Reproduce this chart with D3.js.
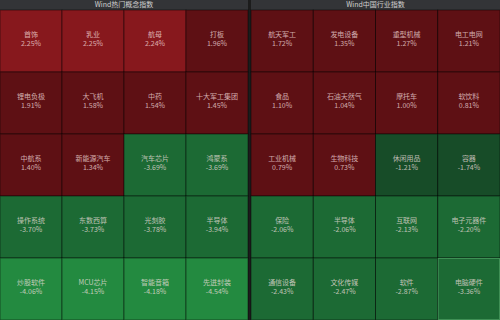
<!DOCTYPE html>
<html>
<head>
<meta charset="utf-8">
<script src="https://cdn.jsdelivr.net/npm/d3@7"></script>
<style>
  body { margin: 0; background: #1c1c1c; }
  svg { display: block; font-family: "Noto Sans CJK SC", "Noto Sans", sans-serif; }
</style>
</head>
<body>
<svg id="chart" width="500" height="320"></svg>
<script>
// panel titles
var panelTitles = ["Wind热门概念指数", "Wind中国行业指数"];

// left panel: concept indices, row by row
var conceptNames = ["首饰", "乳业", "航母", "打板",
                    "锂电负极", "大飞机", "中药", "十大军工集团",
                    "中航系", "新能源汽车", "汽车芯片", "鸿蒙系",
                    "操作系统", "东数西算", "光刻胶", "半导体",
                    "炒股软件", "MCU芯片", "智能音箱", "先进封装"];
var conceptValues = [2.25, 2.25, 2.24, 1.96,
                     1.91, 1.58, 1.54, 1.45,
                     1.40, 1.34, -3.69, -3.69,
                     -3.70, -3.73, -3.78, -3.94,
                     -4.06, -4.15, -4.18, -4.54];

// right panel: industry indices
var industryNames = ["航天军工", "发电设备", "重型机械", "电工电网",
                     "食品", "石油天然气", "摩托车", "软饮料",
                     "工业机械", "生物科技", "休闲用品", "容器",
                     "保险", "半导体", "互联网", "电子元器件",
                     "通信设备", "文化传媒", "软件", "电脑硬件"];
var industryValues = [1.72, 1.35, 1.27, 1.21,
                      1.10, 1.04, 1.00, 0.81,
                      0.79, 0.73, -1.21, -1.74,
                      -2.06, -2.06, -2.13, -2.20,
                      -2.43, -2.47, -2.87, -3.36];

var W = 500, H = 320, headH = 10, cols = 4, rows = 5;

var color = d3.scaleThreshold()
    .domain([-4, -2, 0, 2])
    .range(["#238a40", "#1c6a34", "#174c28", "#5e1014", "#87181d"]);

var fmt = function (v) { return d3.format(".2f")(v).replace("\u2212", "-") + "%"; };

var svg = d3.select("#chart");
svg.append("rect").attr("width", W).attr("height", H).attr("fill", "#1c1c1c");

var panels = [
  { title: panelTitles[0], names: conceptNames, values: conceptValues, x0: 0, x1: 248 },
  { title: panelTitles[1], names: industryNames, values: industryValues, x0: 251, x1: 500 }
];

panels.forEach(function (p) {
  var x = d3.scaleBand().domain(d3.range(cols)).range([p.x0, p.x1]);
  var y = d3.scaleBand().domain(d3.range(rows)).range([headH, H]);

  var g = svg.append("g");

  // header bar
  g.append("rect")
    .attr("x", p.x0).attr("y", 0)
    .attr("width", p.x1 - p.x0).attr("height", headH)
    .attr("fill", "#333437");
  g.append("text")
    .attr("x", (p.x0 + p.x1) / 2).attr("y", headH / 2)
    .attr("dy", "0.35em")
    .attr("text-anchor", "middle")
    .attr("fill", "#d0d0d0")
    .attr("font-size", 7)
    .text(p.title);

  var data = p.names.map(function (n, i) {
    return { name: n, value: p.values[i], col: i % cols, row: Math.floor(i / cols) };
  });

  var cell = g.selectAll("g.cell")
    .data(data)
    .enter()
    .append("g")
    .attr("class", "cell")
    .attr("transform", function (d) { return "translate(" + x(d.col) + "," + y(d.row) + ")"; });

  cell.append("rect")
    .attr("width", x.bandwidth())
    .attr("height", y.bandwidth())
    .attr("fill", function (d) { return color(d.value); })
    .attr("stroke", "rgba(0,0,0,0.45)")
    .attr("stroke-width", 1);

  cell.append("text")
    .attr("x", x.bandwidth() / 2)
    .attr("y", y.bandwidth() / 2 - 4)
    .attr("text-anchor", "middle")
    .attr("fill", "rgba(255,230,230,0.72)")
    .attr("font-size", 7)
    .text(function (d) { return d.name; });

  cell.append("text")
    .attr("x", x.bandwidth() / 2)
    .attr("y", y.bandwidth() / 2 + 5)
    .attr("text-anchor", "middle")
    .attr("fill", "rgba(255,230,230,0.72)")
    .attr("font-size", 7)
    .text(function (d) { return fmt(d.value); });
});

// highlighted last tile on the right panel
var hx = d3.scaleBand().domain(d3.range(cols)).range([251, 500]);
var hy = d3.scaleBand().domain(d3.range(rows)).range([headH, H]);
svg.append("rect")
  .attr("x", hx(3) + 0.5).attr("y", hy(4) + 0.5)
  .attr("width", hx.bandwidth() - 1).attr("height", hy.bandwidth() - 1)
  .attr("fill", "none")
  .attr("stroke", "#3f8f55")
  .attr("stroke-width", 1);
</script>
</body>
</html>
